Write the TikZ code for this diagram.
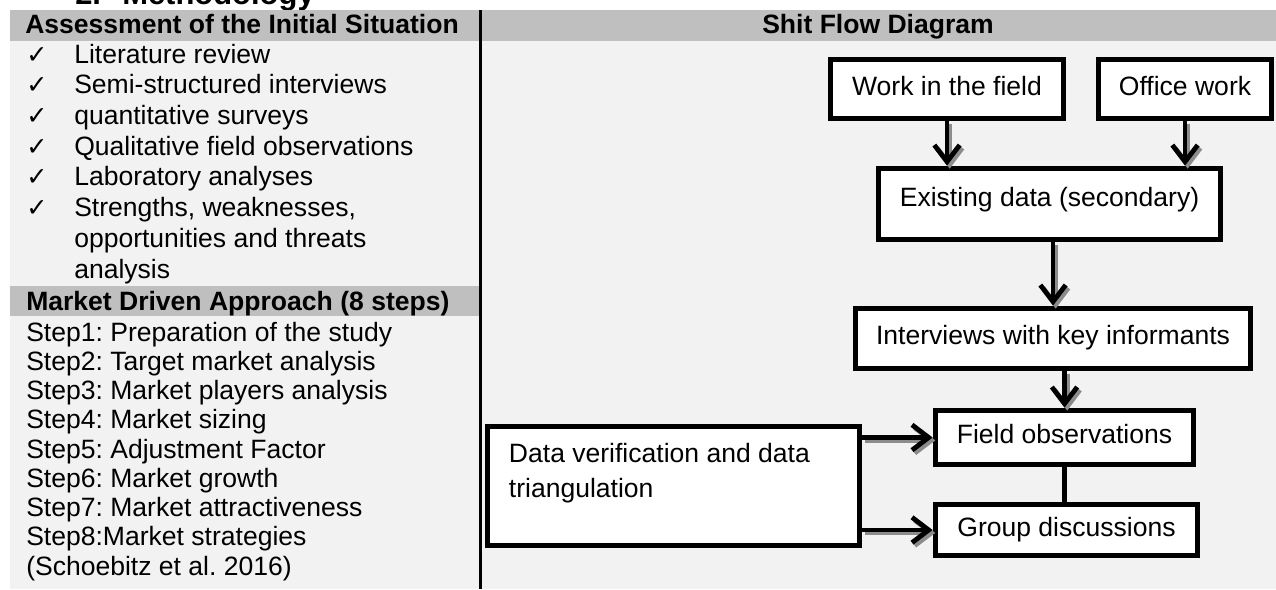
\documentclass[tikz,border=0pt]{standalone}
\usepackage{fontspec}
\setmainfont{Liberation Sans}
\newfontfamily\checkfont{DejaVu Sans}
\usetikzlibrary{arrows.meta}
\definecolor{bandgray}{HTML}{BFBFBF}
\definecolor{panelgray}{HTML}{F2F2F2}
\definecolor{shadowgray}{HTML}{8C8C8C}

\begin{document}
\frenchspacing
\begin{tikzpicture}[x=0.75pt,y=-0.75pt,
  txt/.style={anchor=base west, inner sep=0pt, font=\fontsize{19.9}{23}\selectfont},
  hdr/.style={anchor=base west, inner sep=0pt, font=\fontsize{19.9}{23}\selectfont\bfseries},
  checkmk/.style={anchor=base west, inner sep=0pt, font=\checkfont\fontsize{19}{21}\selectfont},
  flowbox/.style={draw=black, line width=3.9pt, fill=white, inner sep=0pt, font=\fontsize{19.9}{23}\selectfont},
  oneline/.style={flowbox, text height=14pt, text depth=5pt},
  flowarrow/.style={line width=3.6pt, -{Straight Barb[length=12.5pt,width=19pt]}},
  flowshadow/.style={flowarrow, draw=shadowgray, transform canvas={shift={(2pt,-2.2pt)}}}
]
\useasboundingbox (0,0) rectangle (1276,589);

% page background and section heading (its lower part shows above the table)
\fill[white] (0,0) rectangle (1276,589);
\node[anchor=base west, inner sep=0pt, font=\fontsize{23.2}{26}\selectfont\bfseries] (secnum) at (75,4.5) {2.};
\node[anchor=base west, inner sep=0pt, font=\fontsize{23.2}{26}\selectfont\bfseries] (sectitle) at (122,4.5) {Methodology};

% table background
\fill[panelgray] (10,41) rectangle (1276,589);
\fill[bandgray] (10,10) rectangle (1276,41);
\fill[bandgray] (10,286) rectangle (480,316);
\draw[line width=2.5pt] (480.5,10) -- (480.5,589);

% column headers
\node[hdr] (hleft) at (25,33) {Assessment of the Initial Situation};
\node[anchor=base, inner sep=0pt, font=\fontsize{19.9}{23}\selectfont\bfseries] (hright) at (878,33) {Shit Flow Diagram};

% checklist
\node[checkmk] (c1) at (26,63) {✓};
\node[txt] (t1) at (74,63) {Literature review};
\node[checkmk] (c2) at (26,93.7) {✓};
\node[txt] (t2) at (74,93.7) {Semi-structured interviews};
\node[checkmk] (c3) at (26,124.4) {✓};
\node[txt] (t3) at (74,124.4) {quantitative surveys};
\node[checkmk] (c4) at (26,155.1) {✓};
\node[txt] (t4) at (74,155.1) {Qualitative field observations};
\node[checkmk] (c5) at (26,185.8) {✓};
\node[txt] (t5) at (74,185.8) {Laboratory analyses};
\node[checkmk] (c6) at (26,216.5) {✓};
\node[txt] (t6) at (74,216.5) {Strengths, weaknesses,};
\node[txt] (t7) at (74,247.2) {opportunities and threats};
\node[txt] (t8) at (74,278) {analysis};

% market driven approach
\node[hdr] (hmarket) at (26,310) {Market Driven Approach (8 steps)};
\node[txt] (s1) at (26,341) {Step1: Preparation of the study};
\node[txt] (s2) at (26,370.25) {Step2: Target market analysis};
\node[txt] (s3) at (26,399.5) {Step3: Market players analysis};
\node[txt] (s4) at (26,428.75) {Step4: Market sizing};
\node[txt] (s5) at (26,458) {Step5: Adjustment Factor};
\node[txt] (s6) at (26,487.25) {Step6: Market growth};
\node[txt] (s7) at (26,516.5) {Step7: Market attractiveness};
\node[txt] (s8) at (26,545.75) {Step8:Market strategies};
\node[txt] (src) at (26,575) {(Schoebitz et al. 2016)};

% flow diagram boxes
\node[oneline, minimum width=175.1pt, minimum height=44.6pt] (work) at (947,89) {Work in the field};
\node[oneline, minimum width=130.1pt, minimum height=44.6pt] (office) at (1185,89) {Office work};
\node[flowbox, text height=14pt, text depth=10.25pt, minimum width=256.9pt, minimum height=53.6pt] (exist) at (1049.5,204) {Existing data (secondary)};
\node[oneline, minimum width=296.6pt, minimum height=45.4pt] (inter) at (1053,338.5) {Interviews with key informants};
\node[oneline, minimum width=193.9pt, minimum height=40.9pt] (field) at (1064.5,437.5) {Field observations};
\node[oneline, minimum width=196.9pt, minimum height=38.6pt] (group) at (1066.5,530) {Group discussions};
\node[flowbox] (data) at (673.5,486) {\parbox[c][89.6pt][t]{279.4pt}{\setlength{\leftskip}{16.3pt}\setlength{\baselineskip}{26.25pt}\rule{0pt}{26.8pt}Data verification and data\\triangulation}};

% connectors (shadow first, then the arrow)
\draw[flowshadow] (work.south) -- (work.south |- exist.north);
\draw[flowarrow] (work.south) -- (work.south |- exist.north);
\draw[flowshadow] (office.south) -- (office.south |- exist.north);
\draw[flowarrow] (office.south) -- (office.south |- exist.north);
\draw[flowshadow] (exist.south -| inter.north) -- (inter.north);
\draw[flowarrow] (exist.south -| inter.north) -- (inter.north);
\draw[flowshadow] (inter.south -| field.north) -- (field.north);
\draw[flowarrow] (inter.south -| field.north) -- (field.north);
\draw[line width=3.2pt] (field.south) -- (field.south |- group.north);
\draw[flowshadow] (data.east |- field.west) -- (field.west);
\draw[flowarrow] (data.east |- field.west) -- (field.west);
\draw[flowshadow] (data.east |- group.west) -- (group.west);
\draw[flowarrow] (data.east |- group.west) -- (group.west);
\end{tikzpicture}
\end{document}
